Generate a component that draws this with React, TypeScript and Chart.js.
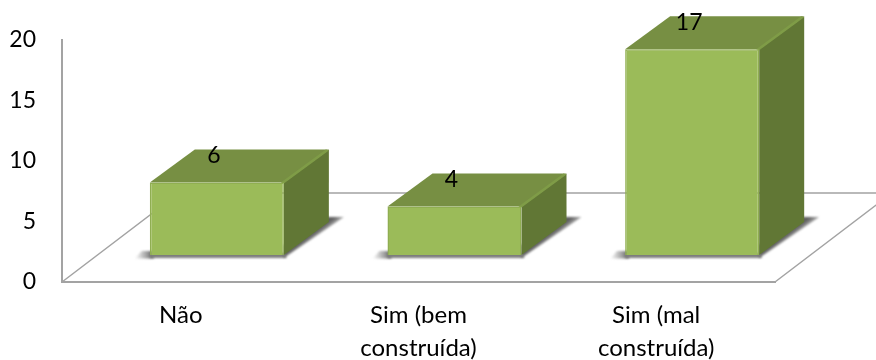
import { useEffect, useRef } from "react";
import { Chart, registerables } from "chart.js";

Chart.register(...registerables);

const categories = ["Não", ["Sim (bem", "construída)"], ["Sim (mal", "construída)"]];
const counts = [6, 4, 17];
const yTicks = [0, 5, 10, 15, 20];

const FONT = "Lato, 'Open Sans', sans-serif";
const AXIS_COLOR = "#a3a3a3";
const FRONT = "#9bbb59";
const FRONT_EDGE = "#90ae52";
const TOP = "#778f43";
const TOP_EDGE = "#7f9c47";
const SIDE = "#617735";

// The bars stand in the middle of the floor, so their front plane is shifted from the axis plane.
const PLANE_DX = 36;
const PLANE_DY = -27;
// Extrusion of each box, and depth of the floor parallelogram.
const BOX_DX = 45;
const BOX_DY = -33;
const FLOOR_DX = 117;
const FLOOR_DY = -89;

const poly = (ctx: CanvasRenderingContext2D, pts: number[][], fill: string | CanvasGradient) => {
  ctx.beginPath();
  pts.forEach(([x, y], i) => (i ? ctx.lineTo(x, y) : ctx.moveTo(x, y)));
  ctx.closePath();
  ctx.fillStyle = fill;
  ctx.fill();
};

const box3d = {
  id: "box3d",
  beforeDatasetsDraw(chart: any) {
    const { ctx, chartArea: a, width } = chart;
    ctx.save();
    ctx.beginPath();
    ctx.rect(0, 0, width, chart.height);
    ctx.clip();

    // Floor outline behind the bars.
    ctx.strokeStyle = AXIS_COLOR;
    ctx.lineWidth = 1.5;
    ctx.beginPath();
    ctx.moveTo(a.left, a.bottom);
    ctx.lineTo(a.left + FLOOR_DX, a.bottom + FLOOR_DY);
    ctx.lineTo(a.right + FLOOR_DX, a.bottom + FLOOR_DY);
    ctx.lineTo(a.right, a.bottom);
    ctx.stroke();

    chart.getDatasetMeta(0).data.forEach((bar: any) => {
      const { x, y, base, width: w } = bar.getProps(["x", "y", "base", "width"], true);
      const x0 = x - w / 2 + PLANE_DX;
      const x1 = x + w / 2 + PLANE_DX;
      const t = y + PLANE_DY;
      const b = base + PLANE_DY;

      // Soft contact shadows on the floor.
      ctx.save();
      ctx.filter = "blur(0.8px)";
      const left = ctx.createLinearGradient(x0 - 15, 0, x0 + 2, 0);
      left.addColorStop(0, "rgba(125,125,125,0)");
      left.addColorStop(1, "rgba(115,115,115,1)");
      poly(ctx, [[x0 - 15, b + 3.5], [x0 + 4, b + 3.5], [x0 + 4, b - 4], [x0 - 8, b - 4]], left);
      poly(ctx, [[x0, b - 2], [x1, b - 2], [x1 + 3, b + 3], [x0, b + 3]], "#7d7d7d");
      const right = ctx.createLinearGradient(x1 + 22, b - 16, x1 + 28, b - 8);
      right.addColorStop(0, "rgba(95,95,95,1)");
      right.addColorStop(1, "rgba(150,150,150,0.35)");
      poly(ctx, [
        [x1, b + 3],
        [x1 + BOX_DX + 15, b + BOX_DY - 5],
        [x1 + BOX_DX - 4, b + BOX_DY - 5],
        [x1, b - 10],
      ], right);
      ctx.restore();

      // Top and side faces of the box.
      poly(ctx, [[x0, t], [x0 + BOX_DX, t + BOX_DY], [x1 + BOX_DX, t + BOX_DY], [x1, t]], TOP);
      poly(ctx, [[x1, t], [x1 + BOX_DX, t + BOX_DY], [x1 + BOX_DX, b + BOX_DY], [x1, b]], SIDE);

      // Bevel along the top face's right edge.
      poly(ctx, [
        [x1 - 3, t],
        [x1 + BOX_DX - 3, t + BOX_DY],
        [x1 + BOX_DX, t + BOX_DY + 1],
        [x1, t + 1],
      ], TOP_EDGE);
    });
    ctx.restore();
  },
  beforeDatasetDraw(chart: any) {
    chart.ctx.save();
    chart.ctx.translate(PLANE_DX, PLANE_DY);
  },
  afterDatasetDraw(chart: any) {
    chart.ctx.restore();
  },
  afterDraw(chart: any) {
    const { ctx } = chart;
    ctx.save();
    ctx.font = `23px ${FONT}`;
    ctx.fillStyle = "#000";
    ctx.textAlign = "center";
    ctx.textBaseline = "middle";
    chart.getDatasetMeta(0).data.forEach((bar: any, i: number) => {
      const { x, y } = bar.getProps(["x", "y"], true);
      ctx.fillText(String(counts[i]), x + PLANE_DX - 3, y + PLANE_DY - 27);
    });
    ctx.restore();
  },
};

export default function App() {
  const ref = useRef<HTMLCanvasElement>(null);
  useEffect(() => {
    const chart = new Chart(ref.current!, {
      type: "bar",
      data: {
        labels: categories as any,
        datasets: [
          {
            data: counts,
            backgroundColor: FRONT,
            borderColor: FRONT_EDGE,
            borderWidth: 1.5,
            categoryPercentage: 1,
            barPercentage: 0.564,
            clip: false as any,
          },
        ],
      },
      options: {
        animation: false,
        responsive: false,
        layout: { padding: { top: 40, right: 101, left: 0, bottom: 0 } },
        plugins: { legend: { display: false }, tooltip: { enabled: false } },
        scales: {
          x: {
            grid: { display: false, drawTicks: false },
            border: { color: AXIS_COLOR, width: 2 },
            afterFit(scale: any) {
              scale.height = 78;
            },
            ticks: {
              color: "#000",
              padding: 17,
              maxRotation: 0,
              autoSkip: false,
              font: { family: FONT, size: 24, lineHeight: 1.375 },
            },
          },
          y: {
            min: 0,
            max: 20,
            afterBuildTicks(scale: any) {
              scale.ticks = yTicks.map((value) => ({ value }));
            },
            afterFit(scale: any) {
              scale.width = 62;
            },
            grid: { display: false, drawTicks: false },
            border: { color: AXIS_COLOR, width: 2 },
            ticks: {
              color: "#000",
              padding: 26,
              font: { family: FONT, size: 23 },
            },
          },
        },
      },
      plugins: [box3d],
    });
    return () => chart.destroy();
  }, []);
  return (
    <div style={{ position: "fixed", left: 0, top: 0, width: 876, height: 360, background: "#fff" }}>
      <canvas ref={ref} width={876} height={360} style={{ display: "block" }} />
    </div>
  );
}
